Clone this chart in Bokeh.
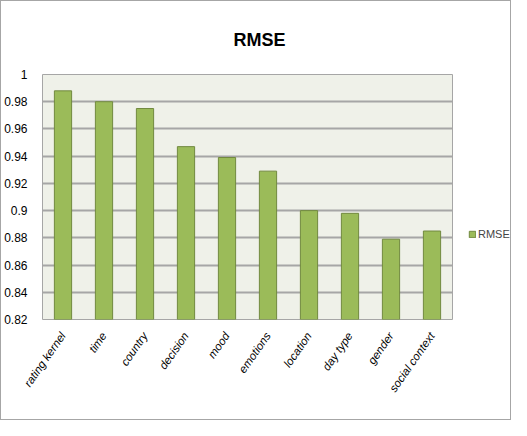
import math
from bokeh.plotting import figure
from bokeh.layouts import row
from bokeh.models import (ColumnDataSource, FactorRange, Range1d, FixedTicker,
                          Legend, LegendItem, Title)
from bokeh.embed import file_html
from bokeh.resources import INLINE

categories = ["rating kernel", "time", "country", "decision", "mood",
              "emotions", "location", "day type", "gender", "social context"]
rmse = [0.988, 0.980, 0.975, 0.947, 0.939, 0.929, 0.900, 0.898, 0.879, 0.885]
y_ticks = [0.82, 0.84, 0.86, 0.88, 0.9, 0.92, 0.94, 0.96, 0.98, 1.0]
y_tick_labels = ["0.82", "0.84", "0.86", "0.88", "0.9", "0.92", "0.94", "0.96", "0.98", "1"]
series_name = "RMSE"

BAR_FILL = "#9BBB59"
BAR_LINE = "#71893F"

src = ColumnDataSource(dict(cat=categories, val=rmse))

p = figure(width=452, height=418, output_backend="svg", toolbar_location=None,
           x_range=FactorRange(*categories), y_range=Range1d(0.82, 1.0),
           min_border_left=40, min_border_right=1, min_border_top=73,
           min_border_bottom=100)

p.title = Title(text="RMSE", align="left", offset=191,
                text_font="Liberation Sans", text_font_size="18px",
                text_font_style="bold", text_color="#000000", standoff=50)

p.background_fill_color = "#EFF1E9"
p.border_fill_color = "white"
p.outline_line_color = "#A6A6A6"
p.outline_line_width = 1

r = p.vbar(x="cat", top="val", bottom=0.82, width=0.42, source=src,
           fill_color=BAR_FILL, line_color=BAR_LINE, line_width=1)

p.xgrid.grid_line_color = None
p.ygrid.grid_line_color = "#A6A6A6"
p.ygrid.grid_line_width = 2

p.yaxis.ticker = FixedTicker(ticks=y_ticks)
p.yaxis.major_label_overrides = {t: l for t, l in zip(y_ticks, y_tick_labels)}
p.yaxis.axis_line_color = None
p.yaxis.major_tick_line_color = None
p.yaxis.minor_tick_line_color = None
p.yaxis.major_label_text_font = "Liberation Sans"
p.yaxis.major_label_text_font_size = "12px"
p.yaxis.major_label_text_color = "#000000"
p.yaxis.major_label_standoff = 9

p.xaxis.axis_line_color = None
p.xaxis.major_tick_line_color = None
p.xaxis.minor_tick_line_color = None
p.xaxis.major_label_orientation = math.radians(55)
p.xaxis.major_label_text_font = "Liberation Sans"
p.xaxis.major_label_text_font_size = "11.5px"
p.xaxis.major_label_text_font_style = "italic"
p.xaxis.major_label_text_color = "#000000"
p.xaxis.major_label_standoff = 8

# legend panel (frames are aligned with the main plot by the row layout)
lf = figure(width=57, height=418, output_backend="svg", toolbar_location=None,
            x_range=FactorRange(*categories), y_range=Range1d(0, 0.1),
            min_border=0, min_border_left=0, min_border_right=0,
            min_border_top=0, min_border_bottom=0)
lf.axis.visible = False
lf.grid.visible = False
lf.outline_line_color = None
lf.background_fill_color = "white"
lf.border_fill_color = "white"
lr = lf.vbar(x="cat", top="val", bottom=0.82, width=0.42, source=src,
             fill_color=BAR_FILL, line_color=BAR_LINE, visible=False)
legend = Legend(items=[LegendItem(label=series_name, renderers=[lr])],
                location=(15, 79), glyph_width=8, glyph_height=8,
                label_text_font="Liberation Sans", label_text_font_size="11px",
                label_standoff=2, padding=2, spacing=0, margin=0,
                border_line_color=None, background_fill_alpha=0)
lf.add_layout(legend, "center")

layout = row(p, lf, spacing=0, styles={"border": "1px solid #A6A6A6"})

open("out.html", "w").write(file_html(layout, INLINE))
